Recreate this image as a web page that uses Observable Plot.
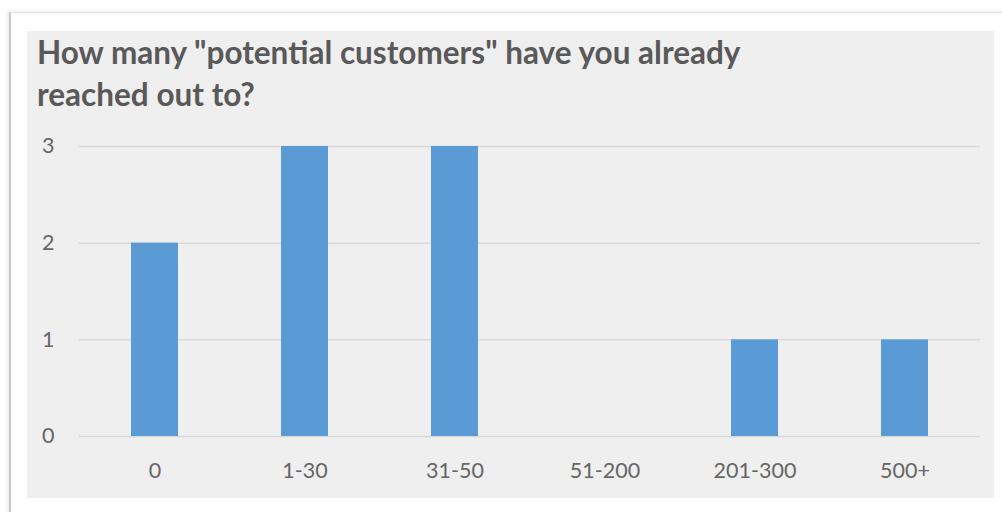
<!DOCTYPE html>
<html>
<head>
<meta charset="utf-8">
<script src="https://cdn.jsdelivr.net/npm/d3@7"></script>
<script src="https://cdn.jsdelivr.net/npm/@observablehq/plot@0.6"></script>
<style>
  html, body { margin: 0; padding: 0; background: #ffffff; width: 1002px; height: 512px; overflow: hidden; }
  #card { position: absolute; left: 9px; top: 12px; width: 1000px; height: 510px; background: #ffffff;
          border-left: 2px solid #c8c8c8; border-top: 1px solid #e2e2e2; box-shadow: -2px -1px 3px rgba(0,0,0,0.08); }
  #panel { position: absolute; left: 27px; top: 31px; width: 967px; height: 467px; background: #efefef; }
  #title { position: absolute; left: 10px; top: 0px; font-family: Lato, "Open Sans", sans-serif; font-weight: bold;
           font-size: 31.5px; line-height: 42px; color: #595959; margin: 0; white-space: nowrap; }
  #chart { position: absolute; left: 0; top: 89px; }
</style>
</head>
<body>
<div id="card"></div>
<div id="panel">
  <div id="title">How many "potential customers" have you already<br>reached out to?</div>
  <div id="chart"></div>
</div>
<script>
const categories = ["0", "1-30", "31-50", "51-200", "201-300", "500+"];
const counts = [2, 3, 3, 0, 1, 1];
const yTicks = [0, 1, 2, 3];

const data = categories.map((c, i) => ({category: c, count: counts[i]}));

const chart = Plot.plot({
  width: 967,
  height: 378,
  marginLeft: 52,
  marginRight: 14,
  marginTop: 26,
  marginBottom: 62,
  style: {fontFamily: "Lato, 'Open Sans', sans-serif", fontSize: "21.5px", color: "#666666", background: "transparent"},
  x: {domain: categories, paddingInner: 0.684, paddingOuter: 0.342, label: null},
  y: {domain: [0, 3], ticks: yTicks, label: null},
  marks: [
    Plot.gridY(yTicks, {stroke: "#d9d9d9", strokeOpacity: 1, strokeWidth: 1.5}),
    Plot.barY(data, {x: "category", y: "count", fill: "#5b9bd5"}),
    Plot.axisY(yTicks, {tickSize: 0, tickPadding: 25, tickFormat: d => String(d), fontSize: 21.5}),
    Plot.axisX({tickSize: 0, tickPadding: 26, fontSize: 21.5})
  ]
});
document.getElementById("chart").appendChild(chart);
</script>
</body>
</html>
